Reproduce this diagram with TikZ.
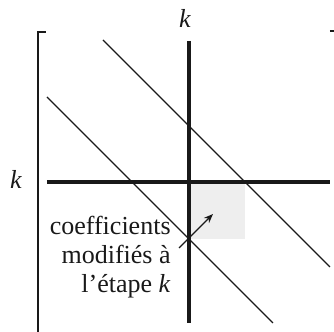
\documentclass[tikz,border=0pt]{standalone}
\usepackage{fontspec}
\setmainfont{Liberation Serif}
\usetikzlibrary{arrows.meta,positioning}
\definecolor{Ink}{RGB}{25,25,25}
\definecolor{PivotGrey}{RGB}{238,238,238}
\tikzset{
  pivotline/.style={draw=Ink, line width=2.1pt},
  diagline/.style={draw=Ink, line width=0.7pt},
  bracketline/.style={draw=Ink, line width=1.3pt},
  idxlabel/.style={font=\fontsize{13}{15}\selectfont\itshape, text=Ink, inner sep=0pt},
  notelabel/.style={font=\fontsize{13}{14.6}\selectfont, text=Ink, align=right, inner sep=0pt},
  notearr/.style={-{Stealth[length=4.6pt,width=3.6pt]}, draw=Ink, line width=0.7pt},
}
\begin{document}
\begin{tikzpicture}[x=0.5pt,y=-0.5pt]
\useasboundingbox (0,0) rectangle (334,332);

% ================= shaded block =================
\fill[PivotGrey] (190,183) rectangle (245,239);

% ================= matrix bracket =================
\coordinate (brtl) at (46,32);
\coordinate (brc) at (38,32);
\coordinate (brbl) at (38,336);
\coordinate (brtr) at (330,31);
\coordinate (brtrr) at (338,31);
\draw[bracketline] (brtl) -- (brc) -- (brbl);
\draw[bracketline] (brtr) -- (brtrr);

% ================= diagonals =================
\coordinate (dupa) at (103,40);
\coordinate (dupb) at (330,267);
\coordinate (dloa) at (47,97);
\coordinate (dlob) at (273,323);
\draw[diagline] (dupa) -- (dupb);
\draw[diagline] (dloa) -- (dlob);

% ================= pivot row and column =================
\coordinate (coltop) at (189,41);
\coordinate (colbot) at (189,323);
\coordinate (rowleft) at (47,182);
\coordinate (rowright) at (330,182);
\draw[pivotline] (coltop) -- (colbot);
\draw[pivotline] (rowleft) -- (rowright);

\node[idxlabel, anchor=base] (kcol) at (185,27.5) {k};
\node[idxlabel, anchor=base] (krow) at (16,189) {k};

% ================= note =================
\node[notelabel, anchor=east] (note) at (171,257)
  {coefficients\\modifiés à\\l’étape \textit{k}};
\coordinate (arrfrom) at (179,248);
\coordinate (arrto) at (213,214);
\draw[notearr] (arrfrom) -- (arrto);

\end{tikzpicture}
\end{document}
